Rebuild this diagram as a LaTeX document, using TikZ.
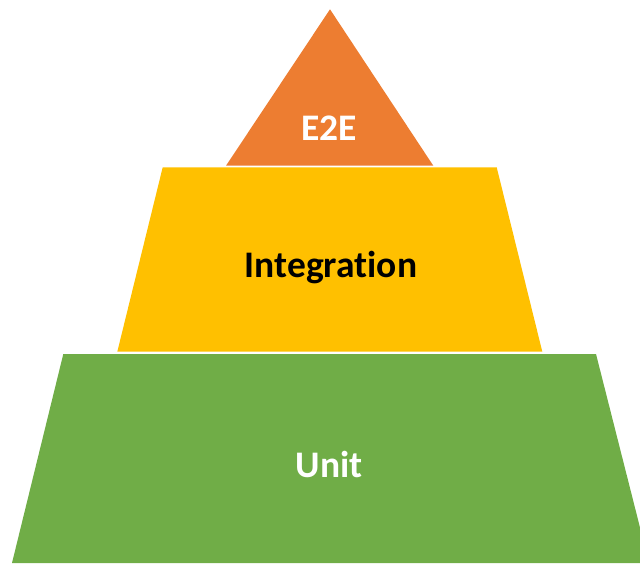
\documentclass[tikz,border=0pt]{standalone}
\usepackage{fontspec}
\setmainfont{Carlito}[Ligatures={NoCommon}]
\definecolor{tierOrange}{HTML}{ED7D31}
\definecolor{tierYellow}{HTML}{FFC000}
\definecolor{tierGreen}{HTML}{70AD47}
\tikzset{
  tierlabel/.style={anchor=base, inner sep=0pt, font=\fontsize{37.5}{44}\selectfont\bfseries},
}
\begin{document}
\begin{tikzpicture}[x=1pt,y=-1pt]
\useasboundingbox (0,0) rectangle (640,563);
\clip (0,0) rectangle (640,563);
\fill[tierOrange] (330,9.3) -- (433.3,165.7) -- (226,165.7) -- cycle;
\fill[tierYellow] (162.7,167.3) -- (496.7,167.3) -- (542.3,351.7) -- (117.3,351.7) -- cycle;
\fill[tierGreen] (63.3,354) -- (596,354) -- (649,563) -- (12,563) -- cycle;
\node[tierlabel, text=white] (e2e) at (329,140) {E2E};
\node[tierlabel, text=black] (integration) at (331,277.3) {Integration};
\node[tierlabel, text=white] (unit) at (329,477.3) {Unit};
\end{tikzpicture}
\end{document}
